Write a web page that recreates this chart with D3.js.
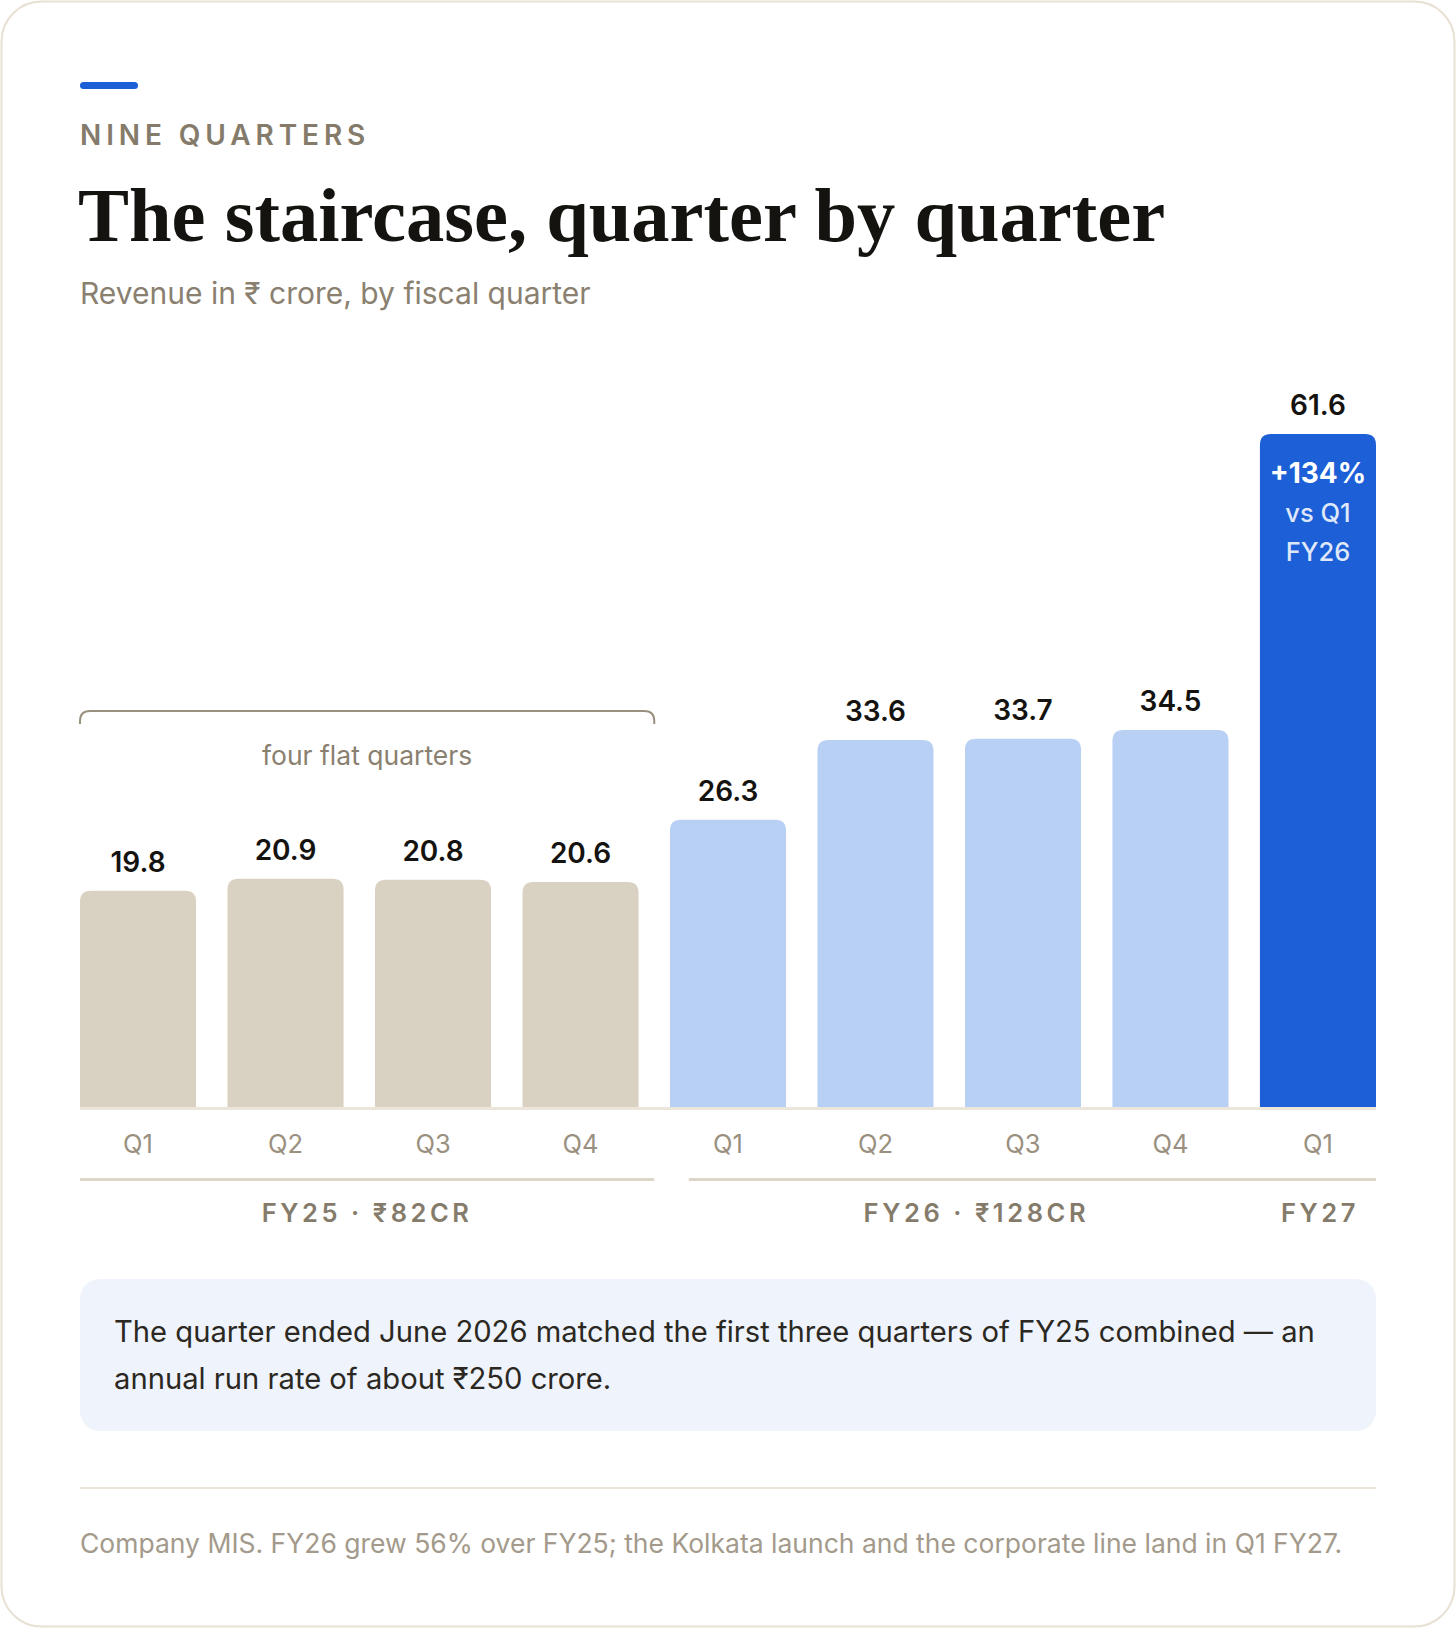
<!DOCTYPE html>
<html>
<head>
<meta charset="utf-8">
<script src="https://cdn.jsdelivr.net/npm/d3@7"></script>
<style>
  html, body { margin: 0; padding: 0; background: #ffffff; }
  svg { display: block; }
</style>
</head>
<body>
<svg id="chart" width="1456" height="1628"></svg>
<script>
// ---- data ----
const quarters = ["Q1", "Q2", "Q3", "Q4", "Q1", "Q2", "Q3", "Q4", "Q1"];
const fiscalYears = ["FY25", "FY25", "FY25", "FY25", "FY26", "FY26", "FY26", "FY26", "FY27"];
const revenue = [19.8, 20.9, 20.8, 20.6, 26.3, 33.6, 33.7, 34.5, 61.6];
const groupLabels = ["FY25 · ₹82CR", "FY26 · ₹128CR", "FY27"];
const groupYears = ["FY25", "FY26", "FY27"];
const highlightLines = ["+134%", "vs Q1", "FY26"];

const eyebrow = "NINE QUARTERS";
const title = "The staircase, quarter by quarter";
const subtitle = "Revenue in ₹ crore, by fiscal quarter";
const bracketText = "four flat quarters";
const noteLines = [
  "The quarter ended June 2026 matched the first three quarters of FY25 combined — an",
  "annual run rate of about ₹250 crore."
];
const footer = "Company MIS. FY26 grew 56% over FY25; the Kolkata launch and the corporate line land in Q1 FY27.";

// ---- layout ----
const W = 1456, H = 1628;
const left = 80, right = 1376;
const baseY = 1107, topY = 434;
const sans = "Inter, 'Noto Sans', sans-serif";
const serif = "'Liberation Serif', 'DejaVu Serif', serif";
const colors = { FY25: "#d9d1c1", FY26: "#b8d0f4", FY27: "#1c5fd6" };

const svg = d3.select("#chart");

// card
svg.append("rect")
  .attr("x", 1.5).attr("y", 1.5).attr("width", W - 3).attr("height", H - 3)
  .attr("rx", 40).attr("fill", "#ffffff").attr("stroke", "#e7e0d3").attr("stroke-width", 2);

// accent
svg.append("rect").attr("x", left).attr("y", 82).attr("width", 58).attr("height", 7)
  .attr("rx", 3.5).attr("fill", "#1c5fd6");

svg.append("text").attr("x", left).attr("y", 145).text(eyebrow)
  .attr("font-family", sans).attr("font-weight", 600).attr("font-size", 28)
  .attr("letter-spacing", "0.175em").attr("fill", "#857b6b");

svg.append("text").attr("x", left - 2).attr("y", 241).text(title)
  .attr("font-family", serif).attr("font-weight", 700).attr("font-size", 76.5)
  .attr("fill", "#15130f");

svg.append("text").attr("x", left).attr("y", 304).text(subtitle)
  .attr("font-family", sans).attr("font-size", 30).attr("fill", "#8a8070");

// scales
const idx = d3.range(revenue.length);
const x = d3.scaleBand().domain(idx).range([left, right]).paddingInner(0.213).paddingOuter(0);
const y = d3.scaleLinear().domain([0, d3.max(revenue)]).range([baseY, topY]);
const bw = x.bandwidth();
const gap = x.step() - bw;

function topRounded(x0, y0, w, h, r) {
  r = Math.min(r, h, w / 2);
  return `M${x0},${y0 + h}V${y0 + r}Q${x0},${y0} ${x0 + r},${y0}H${x0 + w - r}Q${x0 + w},${y0} ${x0 + w},${y0 + r}V${y0 + h}Z`;
}

// bars
svg.append("g").selectAll("path").data(idx).join("path")
  .attr("d", i => topRounded(x(i), y(revenue[i]), bw, baseY - y(revenue[i]), 11))
  .attr("fill", i => colors[fiscalYears[i]]);

// baseline
svg.append("rect").attr("x", left).attr("y", baseY).attr("width", right - left).attr("height", 3)
  .attr("fill", "#ebe5da");

// value labels
svg.append("g").selectAll("text").data(idx).join("text")
  .attr("x", i => x(i) + bw / 2).attr("y", i => y(revenue[i]) - 19)
  .attr("text-anchor", "middle").text(i => revenue[i].toFixed(1))
  .attr("font-family", sans).attr("font-weight", 600).attr("font-size", 28).attr("fill", "#15130f");

// highlight text inside last bar
const last = revenue.length - 1;
const hl = svg.append("g");
hl.selectAll("text").data(highlightLines).join("text")
  .attr("x", x(last) + bw / 2)
  .attr("y", (d, j) => y(revenue[last]) + 49 + j * 39)
  .attr("text-anchor", "middle").text(d => d)
  .attr("font-family", sans)
  .attr("font-weight", (d, j) => j === 0 ? 700 : 500)
  .attr("font-size", (d, j) => j === 0 ? 28 : 25.5)
  .attr("fill", (d, j) => j === 0 ? "#ffffff" : "#dfe8fb");

// x axis (quarter labels)
const xAxis = d3.axisBottom(x).tickSize(0).tickPadding(0).tickFormat(i => quarters[i]);
const ax = svg.append("g").attr("transform", `translate(0,${baseY + 28})`).call(xAxis);
ax.select(".domain").remove();
ax.selectAll("text").attr("font-family", sans).attr("font-size", 25.5).attr("fill", "#9a9080")
  .attr("dy", "0.71em");

// group lines + labels
const groups = groupYears.map((g, k) => {
  const members = idx.filter(i => fiscalYears[i] === g);
  return { g, label: groupLabels[k], first: members[0], lastI: members[members.length - 1] };
});
const span = [
  [x(groups[0].first), x(groups[0].lastI) + bw + gap / 2],
  [x(groups[1].first) + gap * 0.6, x(groups[2].first) + 4],
  [x(groups[2].first) + 4, right]
];
const lineY = 1178;
span.forEach((s, k) => {
  svg.append("rect").attr("x", s[0]).attr("y", lineY).attr("width", s[1] - s[0]).attr("height", 3)
    .attr("fill", "#ddd5c7");
  svg.append("text").attr("x", (s[0] + s[1]) / 2).attr("y", 1222).attr("text-anchor", "middle")
    .text(groups[k].label)
    .attr("font-family", sans).attr("font-weight", 600).attr("font-size", 25.5)
    .attr("letter-spacing", "0.14em").attr("fill", "#857b6b");
});

// bracket over FY25
const bx0 = x(groups[0].first), bx1 = span[0][1], by = 711, br = 10;
svg.append("path")
  .attr("d", `M${bx0},${by + 13}V${by + br}Q${bx0},${by} ${bx0 + br},${by}H${bx1 - br}Q${bx1},${by} ${bx1},${by + br}V${by + 13}`)
  .attr("fill", "none").attr("stroke", "#9a9080").attr("stroke-width", 2);
svg.append("text").attr("x", (bx0 + bx1) / 2).attr("y", 765).attr("text-anchor", "middle")
  .text(bracketText).attr("font-family", sans).attr("font-size", 26.5).attr("fill", "#8a8070");

// note box
svg.append("rect").attr("x", left).attr("y", 1279).attr("width", right - left).attr("height", 152)
  .attr("rx", 20).attr("fill", "#eef3fc");
svg.append("g").selectAll("text").data(noteLines).join("text")
  .attr("x", 114).attr("y", (d, j) => 1342 + j * 47).text(d => d)
  .attr("font-family", sans).attr("font-size", 29.2).attr("fill", "#2b2822");

// divider
svg.append("rect").attr("x", left).attr("y", 1487).attr("width", right - left).attr("height", 2)
  .attr("fill", "#ebe5da");

svg.append("text").attr("x", left).attr("y", 1553).text(footer)
  .attr("font-family", sans).attr("font-size", 26.5).attr("fill", "#a39a8b");
</script>
</body>
</html>
